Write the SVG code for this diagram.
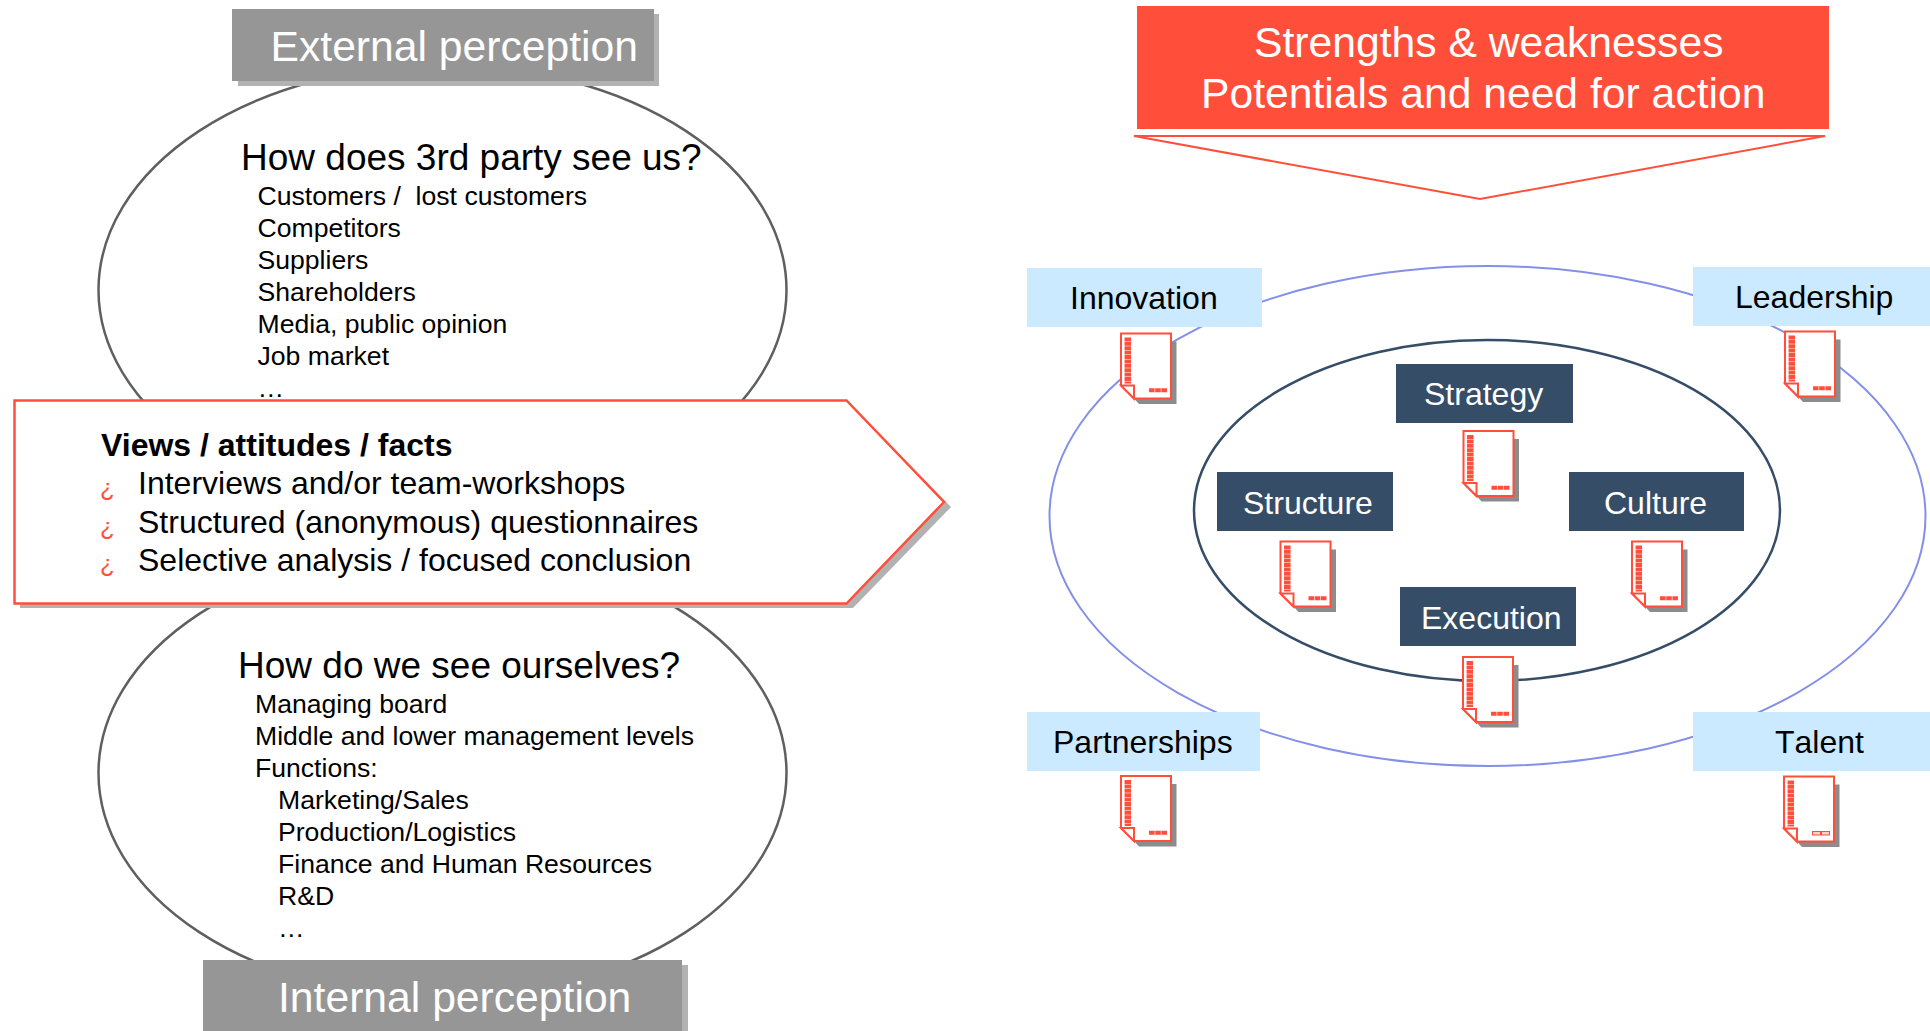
<svg xmlns="http://www.w3.org/2000/svg" width="1930" height="1031" viewBox="0 0 1930 1031">
<style>
text{font-family:"Liberation Sans",Arial,sans-serif;white-space:pre}
.hdr{font-size:42.67px;fill:#fff}
.q{font-size:37px;fill:#000}
.li{font-size:26.6px;fill:#000}
.vb{font-size:32px;fill:#000}
.bul{font-size:24px;fill:#ff4f3a}
.lb{font-size:32px;fill:#000}
.lw{font-size:32px;fill:#fff}
.grey{fill:#969696}
.gs{fill:#b2b2b2}
.blue{fill:#cceaff}
.dark{fill:#364d68}
.perc{fill:#fff;stroke:#5f5f5f;stroke-width:2.5}
.red{fill:#ff4f3a}
.dl{fill:#fff;stroke:#ff4f3a;stroke-width:2;stroke-linejoin:miter}
.col{fill:none;stroke:#ff4f3a;stroke-width:6.5;stroke-dasharray:3.9 .5}
.tick{fill:none;stroke:#ff4f3a;stroke-width:4;stroke-dasharray:5.6 .6}
</style>
<defs>
<g id="doc-base">
<path d="M50,8H55.5V70.5H18L13,65H50Z" fill="#8c8c8c"/>
<path class="dl" d="M0,0H50V65H13L0,52Z"/>
<path class="dl" d="M0,52H13V65Z"/>
<path class="col" d="M6.8,4V50"/>
</g>
<g id="doc"><use href="#doc-base"/><path class="tick" d="M28,56.8H46"/></g>
<g id="doc-hollow"><use href="#doc-base"/><rect x="28.5" y="55" width="8" height="3.5" fill="#ffd0c8" stroke="#ff4f3a"/><rect x="37.5" y="55" width="8" height="3.5" fill="#ffd0c8" stroke="#ff4f3a"/></g>
</defs>
<rect width="1930" height="1031" fill="#fff"/>

<g id="connectors">
<path id="funnel" d="M1134,136H1825L1480,199Z" fill="#fff" stroke="#ff4f3a" stroke-width="2"/>
</g>

<g id="external-ellipse"><ellipse class="perc" cx="442.5" cy="290" rx="344" ry="225"/></g>
<g id="internal-ellipse"><ellipse class="perc" cx="442.5" cy="773" rx="344" ry="225"/></g>

<g id="external-perception">
<rect class="gs" x="238" y="14" width="421" height="72"/>
<rect class="grey" x="232" y="9" width="422" height="72"/>
<text class="hdr" x="270.5" y="61">External perception</text>
</g>

<g id="external-text">
<text class="q" x="241" y="170">How does 3rd party see us?</text>
<text class="li" x="257.5" y="205">Customers /  lost customers</text>
<text class="li" x="257.5" y="237">Competitors</text>
<text class="li" x="257.5" y="269">Suppliers</text>
<text class="li" x="257.5" y="301">Shareholders</text>
<text class="li" x="257.5" y="333">Media, public opinion</text>
<text class="li" x="257.5" y="365">Job market</text>
<text class="li" x="257.5" y="397">…</text>
</g>

<g id="internal-text">
<text class="q" x="238" y="678">How do we see ourselves?</text>
<text class="li" x="255" y="713">Managing board</text>
<text class="li" x="255" y="745">Middle and lower management levels</text>
<text class="li" x="255" y="777">Functions:</text>
<text class="li" x="278" y="809">Marketing/Sales</text>
<text class="li" x="278" y="841">Production/Logistics</text>
<text class="li" x="278" y="873">Finance and Human Resources</text>
<text class="li" x="278" y="905">R&amp;D</text>
<text class="li" x="278" y="937">…</text>
</g>

<g id="internal-perception">
<rect class="gs" x="209" y="965" width="479" height="66"/>
<rect class="grey" x="203" y="960" width="479" height="71"/>
<text class="hdr" x="278" y="1012">Internal perception</text>
</g>

<g id="views">
<path d="M846,400L951,507L853,608H20V560H846Z" fill="#b2b2b2"/>
<path d="M14.5,400.5H846.5L944,502L846.5,603.5H14.5Z" fill="#fff" stroke="#ff4f3a" stroke-width="2.5"/>
<text class="vb" x="101" y="456" font-weight="700">Views / attitudes / facts</text>
<text class="bul" x="100" y="496">¿</text>
<text class="vb" x="138" y="494">Interviews and/or team-workshops</text>
<text class="bul" x="100" y="535">¿</text>
<text class="vb" x="138" y="533">Structured (anonymous) questionnaires</text>
<text class="bul" x="100" y="572">¿</text>
<text class="vb" x="138" y="571">Selective analysis / focused conclusion</text>
</g>

<g id="strengths">
<rect class="red" x="1137" y="6" width="692" height="123"/>
<text class="hdr" x="1254" y="57">Strengths &amp; weaknesses</text>
<text class="hdr" x="1201" y="108">Potentials and need for action</text>
</g>

<g id="outer-ring"><ellipse cx="1487.5" cy="516" rx="438" ry="250" fill="none" stroke="#8490e8" stroke-width="2"/></g>
<g id="inner-ring"><ellipse cx="1487" cy="510.5" rx="293" ry="170.5" fill="none" stroke="#364d68" stroke-width="2.5"/></g>

<g id="innovation">
<rect class="blue" x="1027" y="268" width="235" height="59"/>
<text class="lb" x="1070" y="309">Innovation</text>
<use href="#doc" x="1121" y="333.5"/>
</g>
<g id="leadership">
<rect class="blue" x="1693" y="267" width="237" height="59"/>
<text class="lb" x="1735" y="308">Leadership</text>
<use href="#doc" x="1785" y="331.5"/>
</g>
<g id="partnerships">
<rect class="blue" x="1027" y="712" width="233" height="59"/>
<text class="lb" x="1053" y="753">Partnerships</text>
<use href="#doc" x="1121" y="776"/>
</g>
<g id="talent">
<rect class="blue" x="1693" y="712" width="237" height="59"/>
<text class="lb" x="1775" y="753" style="font-kerning:none">Talent</text>
<use href="#doc-hollow" x="1784" y="776.5"/>
</g>
<g id="strategy">
<rect class="dark" x="1396" y="364" width="177" height="59"/>
<text class="lw" x="1424" y="405">Strategy</text>
<use href="#doc" x="1463.5" y="431"/>
</g>
<g id="structure">
<rect class="dark" x="1217" y="472" width="176" height="59"/>
<text class="lw" x="1243" y="514">Structure</text>
<use href="#doc" x="1280.5" y="541.5"/>
</g>
<g id="culture">
<rect class="dark" x="1569" y="472" width="175" height="59"/>
<text class="lw" x="1604" y="514">Culture</text>
<use href="#doc" x="1632" y="541.5"/>
</g>
<g id="execution">
<rect class="dark" x="1400" y="587" width="176" height="59"/>
<text class="lw" x="1421" y="629">Execution</text>
<use href="#doc" x="1463" y="657"/>
</g>
</svg>
